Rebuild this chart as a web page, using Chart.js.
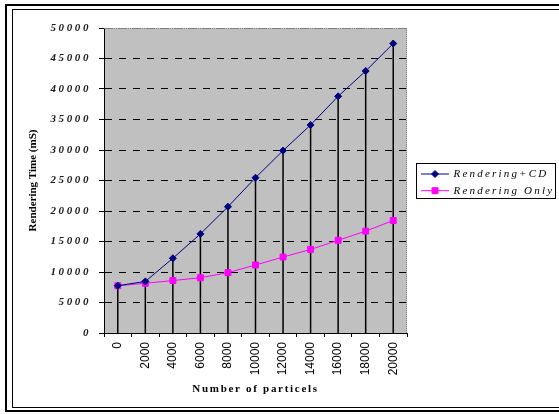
<!DOCTYPE html>
<html>
<head>
<meta charset="utf-8">
<title>Rendering Time vs Number of particles</title>
<script src="https://cdn.jsdelivr.net/npm/chart.js@4/dist/chart.umd.min.js"></script>
<style>
  html, body { margin: 0; padding: 0; background: #ffffff; }
  canvas { display: block; }
</style>
</head>
<body>
<canvas id="chart" width="559" height="414"></canvas>
<script>
// Number of particles (x categories)
const particles = ['0', '2000', '4000', '6000', '8000', '10000', '12000', '14000', '16000', '18000', '20000'];

// Rendering time in milliseconds
const renderingCD   = [7750, 8450, 12250, 16250, 20700, 25450, 29900, 34100, 38800, 42950, 47450];
const renderingOnly = [7750, 8150, 8600, 9050, 9900, 11150, 12450, 13700, 15200, 16700, 18450];

// Value axis range
const yMin = 0;
const yMax = 50000;
const yStep = 5000;

const SERIF = "'Liberation Serif', 'Times New Roman', serif";
const SANS = "'Liberation Sans', Arial, sans-serif";

// Double frame around the whole chart area
const chartFrame = {
  id: 'chartFrame',
  afterDraw(chart) {
    const { ctx } = chart;
    ctx.save();
    ctx.strokeStyle = '#000';
    ctx.lineWidth = 2;
    ctx.strokeRect(6, 5, 600, 406);
    ctx.lineWidth = 1;
    ctx.strokeRect(12.5, 9.5, 600, 398);
    ctx.restore();
  }
};

// Grey plot background and dotted plot border
const plotArea = {
  id: 'plotArea',
  beforeDraw(chart) {
    const { ctx, chartArea: a } = chart;
    ctx.save();
    ctx.fillStyle = '#c0c0c0';
    ctx.fillRect(a.left, a.top, a.right - a.left, a.bottom - a.top);
    ctx.restore();
  },
  beforeDatasetsDraw(chart) {
    const { ctx, chartArea: a } = chart;
    ctx.save();
    ctx.strokeStyle = '#808080';
    ctx.lineWidth = 1;
    ctx.setLineDash([1, 1]);
    ctx.beginPath();
    ctx.moveTo(a.left, Math.floor(a.top) + 0.5);
    ctx.lineTo(a.right, Math.floor(a.top) + 0.5);
    ctx.moveTo(Math.floor(a.right) - 0.5, a.top);
    ctx.lineTo(Math.floor(a.right) - 0.5, a.bottom);
    ctx.stroke();
    ctx.restore();
  }
};

// Vertical drop lines from the highest point of each category to the axis
const dropLines = {
  id: 'dropLines',
  beforeDatasetsDraw(chart, args, opts) {
    const { ctx } = chart;
    const y = chart.scales.y;
    const metas = chart.data.datasets.map((_, i) => chart.getDatasetMeta(i));
    const base = y.getPixelForValue(0);
    ctx.save();
    ctx.strokeStyle = opts.color;
    ctx.lineWidth = opts.width;
    metas[0].data.forEach((pt, i) => {
      const top = Math.min(...metas.map(m => m.data[i].y));
      ctx.beginPath();
      ctx.moveTo(pt.x, top);
      ctx.lineTo(pt.x, base);
      ctx.stroke();
    });
    ctx.restore();
  }
};

// Letter spacing for selected axis labels and titles
const spacedText = {
  id: 'spacedText',
  beforeDraw(chart, args, opts) {
    for (const [id, sp] of Object.entries(opts.scales || {})) {
      const scale = chart.scales[id];
      if (!scale || scale.$spaced) continue;
      scale.$spaced = true;
      const wrap = (name, spacing) => {
        const orig = scale[name];
        scale[name] = function (...a) {
          const c = this.ctx;
          c.save();
          c.letterSpacing = spacing;
          orig.apply(this, a);
          c.restore();
        };
      };
      if (sp.ticks) wrap('drawLabels', sp.ticks);
      if (sp.title) wrap('drawTitle', sp.title);
    }
  }
};

// Boxed legend to the right of the plot
const legendBox = {
  id: 'legendBox',
  afterDraw(chart, args, opts) {
    const { ctx, chartArea } = chart;
    const x = Math.round(chartArea.right + opts.gap) + 0.5;
    const y = opts.top + 0.5;
    ctx.save();
    ctx.strokeStyle = '#000';
    ctx.lineWidth = 1;
    ctx.strokeRect(x, y, opts.width, opts.height);
    ctx.font = opts.font;
    ctx.letterSpacing = opts.letterSpacing;
    ctx.textBaseline = 'middle';
    ctx.textAlign = 'left';
    chart.data.datasets.forEach((ds, i) => {
      const cy = y + opts.firstRow + i * opts.rowGap;
      const x0 = x + 4.5;
      const x1 = x0 + 28;
      ctx.strokeStyle = ds.borderColor;
      ctx.lineWidth = ds.borderWidth;
      ctx.beginPath();
      ctx.moveTo(x0, cy);
      ctx.lineTo(x1, cy);
      ctx.stroke();
      ctx.fillStyle = ds.pointBackgroundColor;
      ctx.strokeStyle = ds.borderColor;
      Chart.helpers.drawPoint(ctx, {
        pointStyle: ds.pointStyle, radius: ds.pointRadius, rotation: 0, borderWidth: 1
      }, (x0 + x1) / 2, cy);
      ctx.fillStyle = '#000';
      ctx.fillText(ds.label, x1 + 4.5, cy);
    });
    ctx.restore();
  }
};

new Chart(document.getElementById('chart'), {
  type: 'line',
  data: {
    labels: particles,
    datasets: [
      {
        label: 'Rendering+CD',
        data: renderingCD,
        borderColor: '#000080',
        backgroundColor: '#000080',
        pointBackgroundColor: '#000080',
        borderWidth: 1,
        pointStyle: 'rectRot',
        pointRadius: 3.5,
        pointBorderWidth: 1,
        tension: 0
      },
      {
        label: 'Rendering Only',
        data: renderingOnly,
        borderColor: '#ff00ff',
        backgroundColor: '#ff00ff',
        pointBackgroundColor: '#ff00ff',
        borderWidth: 1,
        pointStyle: 'rect',
        pointRadius: 4.2,
        pointBorderWidth: 1,
        tension: 0
      }
    ]
  },
  options: {
    responsive: false,
    animation: false,
    devicePixelRatio: 1,
    layout: { padding: { left: 14, top: 28, right: 152, bottom: 10 } },
    scales: {
      x: {
        type: 'category',
        offset: true,
        afterFit(scale) { scale.height = 71; },
        grid: {
          display: true,
          offset: true,
          drawOnChartArea: false,
          drawTicks: true,
          tickLength: 4,
          tickColor: '#000',
          color: '#000'
        },
        border: { display: true, color: '#000', width: 1 },
        ticks: {
          minRotation: 90,
          maxRotation: 90,
          autoSkip: false,
          padding: 5,
          color: '#000',
          font: { family: SANS, size: 12 }
        },
        title: {
          display: true,
          text: 'Number of particels',
          color: '#000',
          font: { family: SERIF, size: 11, weight: 'bold' },
          padding: { top: 0, bottom: 8.4 }
        }
      },
      y: {
        min: yMin,
        max: yMax,
        afterFit(scale) { scale.width = 90; },
        grid: {
          display: true,
          drawOnChartArea: true,
          drawTicks: true,
          tickLength: 5,
          tickColor: '#000',
          tickBorderDash: [],
          color: (c) => (c.tick && c.tick.value === yMax ? '#808080' : '#000'),
          lineWidth: 1
        },
        border: { display: true, color: '#000', width: 1, dash: [7, 7] },
        ticks: {
          stepSize: yStep,
          padding: 8,
          color: '#1a1a1a',
          font: { family: SERIF, size: 11, style: 'italic', weight: 'bold' },
          callback: (value) => String(value)
        },
        title: {
          display: true,
          text: 'Rendering Time (mS)',
          color: '#000',
          font: { family: SERIF, size: 11, weight: 'bold' },
          padding: { top: 13, bottom: 0 }
        }
      }
    },
    plugins: {
      legend: { display: false },
      tooltip: { enabled: false },
      dropLines: { color: '#000', width: 1.5 },
      spacedText: {
        scales: {
          y: { ticks: '2.6px' },
          x: { title: '1.7px' }
        }
      },
      legendBox: {
        gap: 9,
        top: 163,
        width: 139,
        height: 35,
        firstRow: 10.5,
        rowGap: 16.7,
        font: "italic 11px " + SERIF,
        letterSpacing: '2.2px'
      }
    }
  },
  plugins: [chartFrame, plotArea, dropLines, spacedText, legendBox]
});
</script>
</body>
</html>
